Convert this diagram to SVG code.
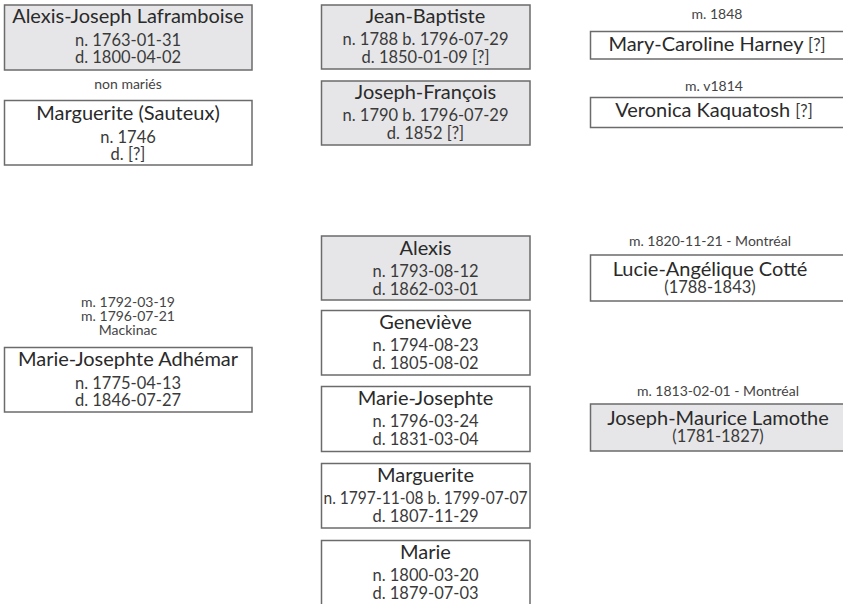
<svg xmlns="http://www.w3.org/2000/svg" width="843" height="604" viewBox="0 0 843 604">
<style>
text{font-family:Lato,"Liberation Sans",sans-serif;text-anchor:middle;fill:#2a2a2a}
.b{stroke:#6b6b6b;stroke-width:1.5;fill:#fff}
.g{fill:#e6e6e8}
.n{font-size:20px}
.d{font-size:16.5px;fill:#3a3a3a}
.l{font-size:14px;fill:#444}
</style>
<rect width="843" height="604" fill="#fff"/>
<g id="connectors"></g>
<g id="alexis-joseph"><rect class="b g" x="4.5" y="5" width="247.5" height="65"/><text class="n" x="128" y="23">Alexis-Joseph Laframboise</text><text class="d" x="128" y="46">n. 1763-01-31</text><text class="d" x="128" y="63">d. 1800-04-02</text></g>
<g id="label-nonmaries"><text class="l" x="128" y="89">non mariés</text></g>
<g id="marguerite-sauteux"><rect class="b" x="4.5" y="100.5" width="247.5" height="64.5"/><text class="n" x="128" y="120">Marguerite (Sauteux)</text><text class="d" x="128" y="143">n. 1746</text><text class="d" x="128" y="160">d. [?]</text></g>
<g id="label-adhemar"><text class="l" x="128" y="307">m. 1792-03-19</text><text class="l" x="128" y="321">m. 1796-07-21</text><text class="l" x="128" y="335">Mackinac</text></g>
<g id="marie-josephte-adhemar"><rect class="b" x="4.5" y="347.5" width="247.5" height="64.5"/><text class="n" x="128" y="366">Marie-Josephte Adhémar</text><text class="d" x="128" y="389">n. 1775-04-13</text><text class="d" x="128" y="406">d. 1846-07-27</text></g>
<g id="jean-baptiste"><rect class="b g" x="321.5" y="5" width="208.5" height="64"/><text class="n" x="425.5" y="23">Jean-Baptiste</text><text class="d" x="425.5" y="45">n. 1788 b. 1796-07-29</text><text class="d" x="425.5" y="63">d. 1850-01-09 [?]</text></g>
<g id="joseph-francois"><rect class="b g" x="321.5" y="81" width="208.5" height="64"/><text class="n" x="425.5" y="99">Joseph-François</text><text class="d" x="425.5" y="121">n. 1790 b. 1796-07-29</text><text class="d" x="425.5" y="139">d. 1852 [?]</text></g>
<g id="alexis"><rect class="b g" x="321.5" y="236" width="208.5" height="64"/><text class="n" x="425.5" y="255">Alexis</text><text class="d" x="425.5" y="277">n. 1793-08-12</text><text class="d" x="425.5" y="295">d. 1862-03-01</text></g>
<g id="genevieve"><rect class="b" x="321.5" y="310.5" width="208.5" height="64.5"/><text class="n" x="425.5" y="329">Geneviève</text><text class="d" x="425.5" y="351">n. 1794-08-23</text><text class="d" x="425.5" y="369">d. 1805-08-02</text></g>
<g id="marie-josephte"><rect class="b" x="321.5" y="386.5" width="208.5" height="65"/><text class="n" x="425.5" y="405">Marie-Josephte</text><text class="d" x="425.5" y="427">n. 1796-03-24</text><text class="d" x="425.5" y="445">d. 1831-03-04</text></g>
<g id="marguerite"><rect class="b" x="321.5" y="463.5" width="208.5" height="64.5"/><text class="n" x="425.5" y="482">Marguerite</text><text class="d" x="425.5" y="504" textLength="204" lengthAdjust="spacingAndGlyphs">n. 1797-11-08 b. 1799-07-07</text><text class="d" x="425.5" y="522">d. 1807-11-29</text></g>
<g id="marie"><rect class="b" x="321.5" y="540.5" width="208.5" height="70"/><text class="n" x="425.5" y="559">Marie</text><text class="d" x="425.5" y="581">n. 1800-03-20</text><text class="d" x="425.5" y="599">d. 1879-07-03</text></g>
<g id="label-harney"><text class="l" x="717" y="19">m. 1848</text></g>
<g id="mary-caroline-harney"><rect class="b" x="590.5" y="31.5" width="270" height="27.5"/><text class="n" x="717" y="51">Mary-Caroline Harney <tspan class="d">[?]</tspan></text></g>
<g id="label-kaquatosh"><text class="l" x="714" y="91">m. v1814</text></g>
<g id="veronica-kaquatosh"><rect class="b" x="590.5" y="97.5" width="270" height="30"/><text class="n" x="714" y="117">Veronica Kaquatosh <tspan class="d">[?]</tspan></text></g>
<g id="label-cotte"><text class="l" x="710" y="246">m. 1820-11-21 - Montréal</text></g>
<g id="lucie-angelique-cotte"><rect class="b" x="590.5" y="255" width="270" height="46"/><text class="n" x="710" y="276">Lucie-Angélique Cotté</text><text class="d" x="710" y="293">(1788-1843)</text></g>
<g id="label-lamothe"><text class="l" x="718" y="396">m. 1813-02-01 - Montréal</text></g>
<g id="joseph-maurice-lamothe"><rect class="b g" x="590.5" y="404" width="270" height="47"/><text class="n" x="718" y="425">Joseph-Maurice Lamothe</text><text class="d" x="718" y="442">(1781-1827)</text></g>
</svg>
